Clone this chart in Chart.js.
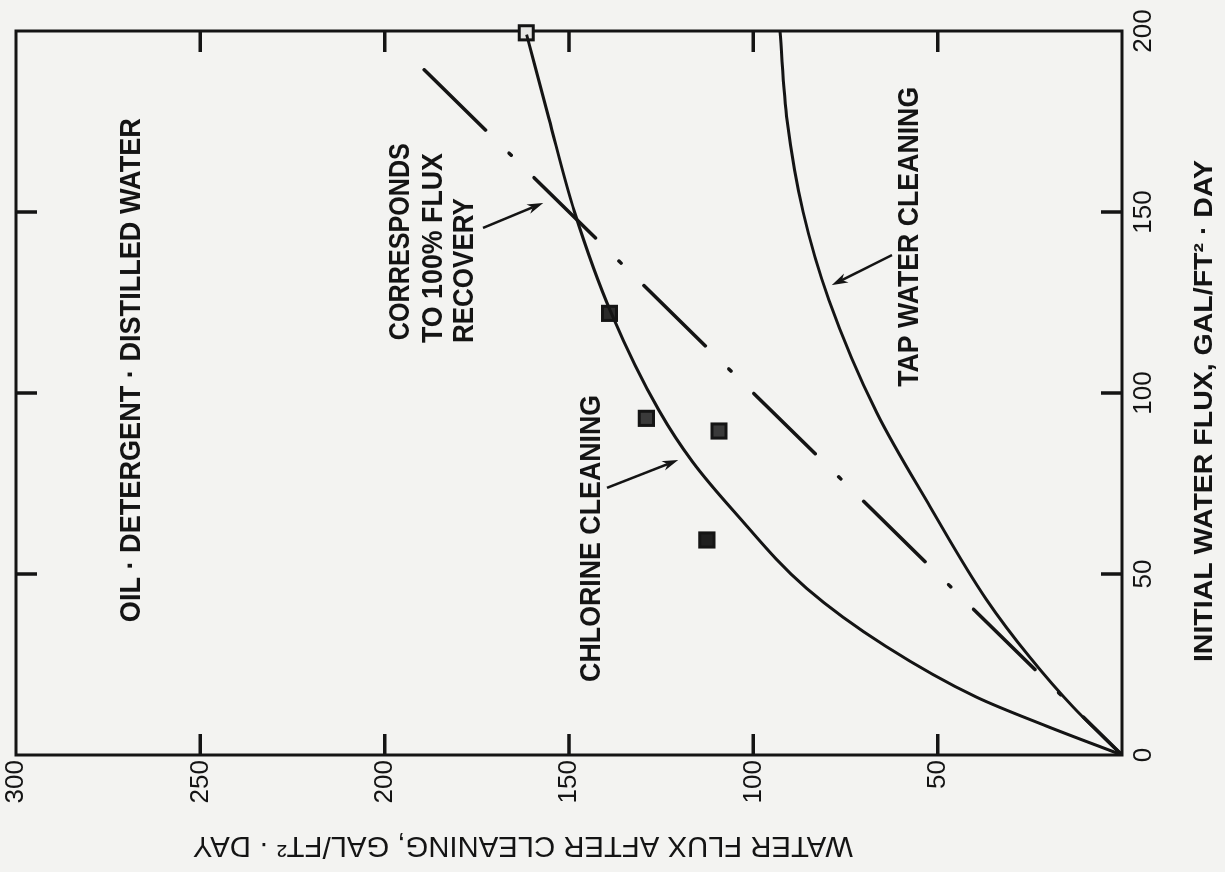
<!DOCTYPE html>
<html>
<head>
<meta charset="utf-8">
<title>Water flux after cleaning</title>
<script src="https://cdn.jsdelivr.net/npm/chart.js@4.4.1/dist/chart.umd.min.js"></script>
<style>
  html, body { margin: 0; padding: 0; background: #f3f3f1; overflow: hidden; }
  /* the plot is laid out upright, then turned a quarter turn to the left */
  #sheet {
    position: absolute; left: 0; top: 0;
    width: 872px; height: 1225px;
    transform-origin: 0 0;
    transform: translateY(872px) rotate(-90deg);
  }
</style>
</head>
<body>
<div id="sheet"><canvas id="fluxChart" width="872" height="1225"></canvas></div>
<script>
// Initial water flux vs. water flux after cleaning, GAL/FT2-DAY
const xTicks = [0, 50, 100, 150, 200];
const yTicks = [0, 50, 100, 150, 200, 250, 300];

// chlorine cleaning curve
const chlorineFlux  = [0, 8, 16, 30, 46, 67, 81, 95, 122, 150, 176, 199];
const chlorineAfter = [0, 20.5, 39.5, 64, 85.5, 105, 116.5, 125.5, 138.5, 148.5, 155.5, 161.5];

// tap water cleaning curve
const tapFlux  = [0, 13.3, 27, 43, 68.5, 94.5, 125.7, 150, 175, 200];
const tapAfter = [0, 13.3, 25, 36.8, 52, 66.5, 79.5, 86.5, 90.8, 92.8];

// 100% flux recovery line
const recoveryFlux  = [0, 192];
const recoveryAfter = [0, 192];

// measured samples
const sampleFlux  = [199.5, 122, 93, 89.5, 59.4];
const sampleAfter = [161.6, 139, 129, 109.3, 112.6];

const ink = '#141414';
const sans = '"Liberation Sans", Arial, Helvetica, sans-serif';
const tickLen = 21;

Chart.defaults.font.family = sans;
Chart.defaults.color = ink;

const toPoints = (xs, ys) => xs.map((v, i) => ({ x: v, y: ys[i] }));

// text on the plot, anchored at its left end in data units
const notes = [
  { text: 'OIL · DETERGENT · DISTILLED WATER', x: 36.7, y: 268.5, width: 504 },
  { text: 'CORRESPONDS', x: 114.6, y: 195.6, width: 197 },
  { text: 'TO 100% FLUX', x: 113.8, y: 186.6, width: 190 },
  { text: 'RECOVERY', x: 113.8, y: 178.2, width: 145 },
  { text: 'CHLORINE CLEANING', x: 20.2, y: 143.7, width: 287 },
  { text: 'TAP WATER CLEANING', x: 101.7, y: 57.5, width: 300 }
];

const arrows = [
  { from: [145.6, 173.3], to: [152.5, 157.0] },
  { from: [73.8, 139.7], to: [81.5, 120.4] },
  { from: [138.1, 62.4], to: [129.8, 78.7] }
];

// squeeze or stretch a string to an exact width
function fitText(ctx, text, x, y, width) {
  const w = ctx.measureText(text).width;
  ctx.save();
  ctx.translate(x, y);
  ctx.scale(width / w, 1);
  ctx.fillText(text, 0, 0);
  ctx.restore();
}

function drawArrow(ctx, x0, y0, x1, y1) {
  const ang = Math.atan2(y1 - y0, x1 - x0);
  const c = Math.cos(ang), s = Math.sin(ang);
  const head = 16, half = 5;
  ctx.beginPath();
  ctx.moveTo(x0, y0);
  ctx.lineTo(x1 - c * head * 0.7, y1 - s * head * 0.7);
  ctx.stroke();
  ctx.beginPath();
  ctx.moveTo(x1, y1);
  ctx.lineTo(x1 - c * head - s * half, y1 - s * head + c * half);
  ctx.lineTo(x1 - c * head * 0.7, y1 - s * head * 0.7);
  ctx.lineTo(x1 - c * head + s * half, y1 - s * head - c * half);
  ctx.closePath();
  ctx.fill();
}

const sheetPlugin = {
  id: 'sheet',
  beforeDraw(chart) {
    const { ctx, width, height } = chart;
    ctx.save();
    ctx.fillStyle = '#f3f3f1';
    ctx.fillRect(0, 0, width, height);
    ctx.restore();
  },
  // frame and inward tick marks on all four sides
  beforeDatasetsDraw(chart) {
    const { ctx, chartArea: a, scales: { x, y } } = chart;
    ctx.save();
    ctx.strokeStyle = ink;
    ctx.lineWidth = 3;
    ctx.strokeRect(a.left, a.top, a.right - a.left, a.bottom - a.top);
    ctx.lineWidth = 3.5;
    ctx.beginPath();
    xTicks.slice(1, -1).forEach(v => {
      const px = x.getPixelForValue(v);
      ctx.moveTo(px, a.bottom); ctx.lineTo(px, a.bottom - tickLen);
      ctx.moveTo(px, a.top); ctx.lineTo(px, a.top + tickLen);
    });
    yTicks.slice(1, -1).forEach(v => {
      const py = y.getPixelForValue(v);
      ctx.moveTo(a.left, py); ctx.lineTo(a.left + tickLen, py);
      ctx.moveTo(a.right, py); ctx.lineTo(a.right - tickLen, py);
    });
    ctx.stroke();
    ctx.restore();
  },
  afterDatasetsDraw(chart) {
    const { ctx, chartArea: a, scales: { x, y } } = chart;
    ctx.save();
    ctx.fillStyle = ink;
    ctx.strokeStyle = ink;

    ctx.font = `bold 29px ${sans}`;
    ctx.textAlign = 'left';
    ctx.textBaseline = 'middle';
    notes.forEach(n => {
      fitText(ctx, n.text, x.getPixelForValue(n.x), y.getPixelForValue(n.y), n.width);
    });

    ctx.lineWidth = 2.5;
    arrows.forEach(ar => {
      drawArrow(ctx,
        x.getPixelForValue(ar.from[0]), y.getPixelForValue(ar.from[1]),
        x.getPixelForValue(ar.to[0]), y.getPixelForValue(ar.to[1]));
    });

    // axis titles
    ctx.textAlign = 'center';
    ctx.font = `bold 25px ${sans}`;
    fitText(ctx, 'INITIAL WATER FLUX, GAL/FT² · DAY', x.getPixelForValue(95), a.bottom + 83, 502);

    ctx.translate(a.left - 90, y.getPixelForValue(162.5));
    ctx.rotate(-Math.PI / 2);
    ctx.font = `29px ${sans}`;
    fitText(ctx, 'WATER FLUX AFTER CLEANING, GAL/FT² · DAY', 0, 0, 660);
    ctx.restore();
  }
};

new Chart(document.getElementById('fluxChart'), {
  type: 'scatter',
  data: {
    datasets: [
      {
        label: 'Chlorine cleaning',
        data: toPoints(chlorineFlux, chlorineAfter),
        showLine: true,
        borderColor: ink,
        borderWidth: 3,
        pointRadius: 0,
        cubicInterpolationMode: 'monotone'
      },
      {
        label: 'Tap water cleaning',
        data: toPoints(tapFlux, tapAfter),
        showLine: true,
        borderColor: ink,
        borderWidth: 3,
        pointRadius: 0,
        cubicInterpolationMode: 'monotone'
      },
      {
        label: '100% flux recovery',
        data: toPoints(recoveryFlux, recoveryAfter),
        showLine: true,
        borderColor: ink,
        borderWidth: 3.5,
        borderDash: [86, 32, 3, 33],
        borderDashOffset: 32,
        borderCapStyle: 'round',
        pointRadius: 0
      },
      {
        label: 'Samples',
        data: toPoints(sampleFlux, sampleAfter),
        showLine: false,
        pointStyle: 'rect',
        pointRadius: 10,
        borderWidth: 3,
        pointBorderColor: ink,
        pointBackgroundColor: ['#e6e6e4', '#2a2a2a', '#3a3a3a', '#3a3a3a', '#1e1e1e'],
        clip: false
      }
    ]
  },
  options: {
    responsive: false,
    devicePixelRatio: 1,
    animation: false,
    events: [],
    layout: { padding: { left: 0, top: 16, right: 31, bottom: 0 } },
    plugins: {
      legend: { display: false },
      tooltip: { enabled: false }
    },
    scales: {
      x: {
        type: 'linear',
        min: 0,
        max: 200,
        grid: { display: false, drawTicks: false },
        border: { display: false },
        afterBuildTicks: s => { s.ticks = xTicks.map(value => ({ value })); },
        afterFit: s => { s.height = 103; s.paddingLeft = 0; s.paddingRight = 0; },
        ticks: { padding: 6, maxRotation: 0, color: ink, font: { size: 26 } }
      },
      y: {
        type: 'linear',
        min: 0,
        max: 300,
        grid: { display: false, drawTicks: false },
        border: { display: false },
        afterBuildTicks: s => { s.ticks = yTicks.map(value => ({ value })); },
        afterFit: s => { s.width = 117; s.paddingTop = 0; s.paddingBottom = 0; },
        ticks: {
          padding: 5,
          color: ink,
          font: { size: 26 },
          callback: v => (v === 0 ? '' : v)
        }
      }
    }
  },
  plugins: [sheetPlugin]
});
</script>
</body>
</html>
